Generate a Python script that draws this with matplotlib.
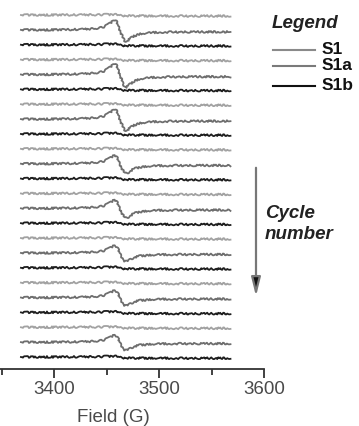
import numpy as np
import matplotlib.pyplot as plt
from matplotlib.lines import Line2D
from matplotlib.patches import FancyArrowPatch

plt.rcParams['font.family'] = ['Liberation Sans', 'DejaVu Sans']

# series names and colours
series = ['S1', 'S1a', 'S1b']
colors = ['#a2a2a2', '#6e6e6e', '#1e1e1e']
n_cycles = 8

# baseline traces (S1 and S1b), offset in px
field_flat = [3368, 3420, 3445, 3455, 3460, 3465, 3470, 3500, 3568]
s1 = [0.0, 0.1, 0.3, 0.5, 0.3, -0.7, -0.9, -1.0, -1.0]
s1b = [0.0, 0.1, 0.4, 0.8, 0.6, -0.8, -1.1, -1.2, -1.2]

# EPR derivative line of S1a (first cycle)
field_a = [3368, 3390, 3410, 3425, 3435, 3442, 3447, 3451, 3454, 3456, 3457.5,
           3459, 3461, 3463, 3465, 3467, 3469, 3472, 3476, 3482, 3490, 3500,
           3515, 3535, 3568]
s1a = [0.0, 0.0, 0.2, 0.5, 1.0, 1.8, 3.0, 5.0, 7.5, 9.3, 10.0,
       8.5, 4.0, -2.0, -7.5, -11.0, -11.5, -9.0, -6.0, -4.0, -3.0, -2.4,
       -2.1, -2.0, -2.0]
# relative signal size per cycle
cycle_scale = [1.0, 1.1, 1.0, 0.85, 0.85, 0.75, 0.72, 0.72]

fig = plt.figure(figsize=(3.59, 4.26), dpi=100)
ax = fig.add_axes([0, 57 / 426, 264 / 359, 369 / 426])

top = 354
step = 14.87
k = 0
for c in range(n_cycles):
    for name, col in zip(series, colors):
        off = top - k * step
        if name == 'S1':
            x, y = field_flat, np.array(s1)
        elif name == 'S1b':
            x, y = field_flat, np.array(s1b)
        else:
            x, y = field_a, np.array(s1a) * cycle_scale[c]
        ln, = ax.plot(x, off + y, color=col, lw=1.3)
        ln.set_sketch_params(0.9, 2.0, 12)
        k += 1

ax.set_xlim(3348, 3600)
ax.set_ylim(0, 369)
for s in ['left', 'top', 'right']:
    ax.spines[s].set_visible(False)
ax.spines['bottom'].set_color('#333333')
ax.spines['bottom'].set_linewidth(1.3)
ax.set_yticks([])
ax.set_xticks([3400, 3500, 3600])
ax.set_xticks([3350, 3450, 3550], minor=True)
ax.tick_params(axis='x', which='major', length=6.5, width=1.3, color='#333333',
               labelsize=13.5, labelcolor='#4a4a4a', pad=2.5)
ax.tick_params(axis='x', which='minor', length=4.5, width=1.3, color='#333333')
ax.set_xlabel('Field (G)', fontsize=13.5, color='#4a4a4a', va='center')
ax.xaxis.set_label_coords(113 / 264, -48 / 369)

W, H = 359, 426

# legend drawn by hand
fig.text(272 / W, 1 - 23 / H, 'Legend', fontsize=13.5, fontweight='bold',
         fontstyle='italic', va='center', ha='left', color='#222222')
leg_y = [50, 66, 86]
leg_colors = ['#8a8a8a', '#7a7a7a', '#111111']
for name, col, yy in zip(series, leg_colors, leg_y):
    fig.add_artist(Line2D([273 / W, 315 / W], [1 - yy / H, 1 - yy / H],
                          color=col, lw=1.5, transform=fig.transFigure))
    fig.text(322 / W, 1 - yy / H, name, fontsize=12.5, fontweight='bold',
             va='center', ha='left', color='#111111')

# cycle arrow
arr = FancyArrowPatch((256 / W, 1 - 165 / H), (256 / W, 1 - 299 / H),
                      transform=fig.transFigure,
                      arrowstyle='-|>,head_length=0.8,head_width=0.2',
                      mutation_scale=14, edgecolor='#777777',
                      facecolor='#111111', lw=1.6)
fig.add_artist(arr)
fig.text(265 / W, 1 - 224 / H, 'Cycle\nnumber', fontsize=13.5, fontweight='bold',
         fontstyle='italic', va='center', ha='left', color='#222222',
         linespacing=1.35)

fig.savefig('out.png', dpi=100)
